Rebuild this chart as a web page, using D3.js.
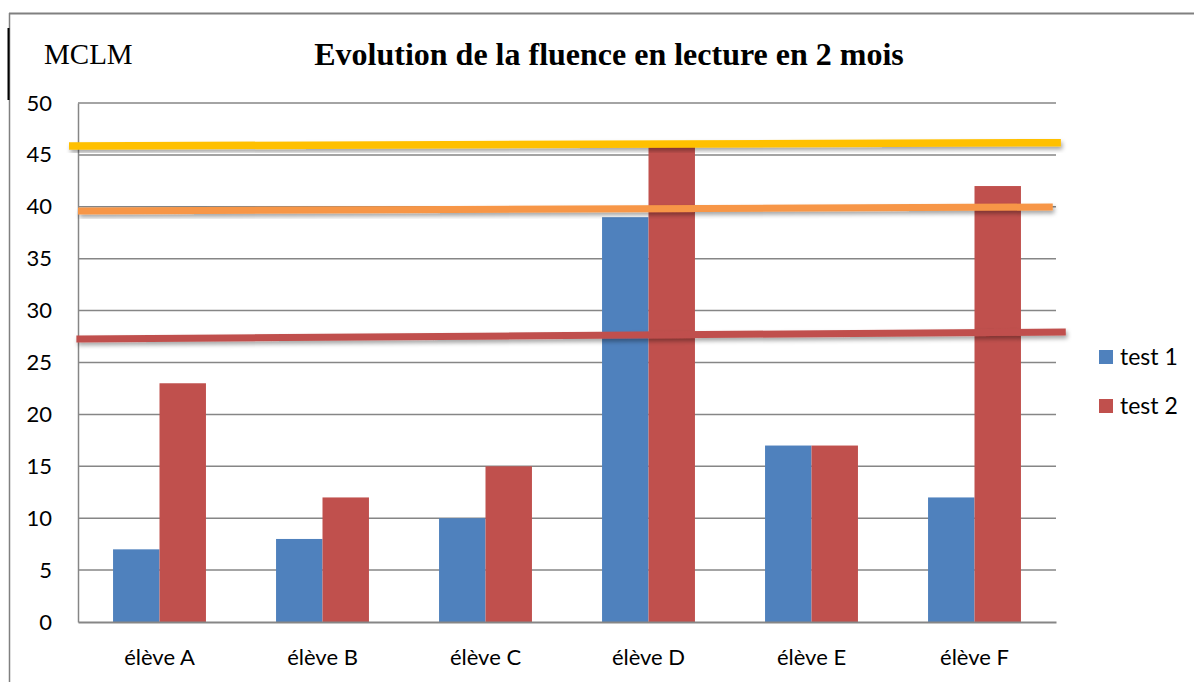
<!DOCTYPE html>
<html>
<head>
<meta charset="utf-8">
<script src="https://cdn.jsdelivr.net/npm/d3@7"></script>
<style>
  html, body { margin: 0; padding: 0; background: #fff; }
  svg { display: block; }
</style>
</head>
<body>
<svg id="chart" width="1194" height="682"></svg>
<script>
// ---- data ----
const categories = ["élève A", "élève B", "élève C", "élève D", "élève E", "élève F"];
const seriesNames = ["test 1", "test 2"];
const test1 = [7, 8, 10, 39, 17, 12];
const test2 = [23, 12, 15, 46, 17, 42];
const yTicks = [0, 5, 10, 15, 20, 25, 30, 35, 40, 45, 50];
// hand-drawn reference lines: [x start, y start, x end, y end] in (category index, value) units
const refLineNames = ["jaune", "orange", "rouge"];
const refLineStart = [[-0.055, 45.86], [0.0, 39.6], [-0.01, 27.26]];
const refLineEnd = [[6.03, 46.18], [5.98, 39.98], [6.06, 27.94]];
const title = "Evolution de la fluence en lecture en 2 mois";
const corner = "MCLM";

// ---- layout ----
const svg = d3.select("#chart");
const plot = { left: 78, right: 1056, top: 103, bottom: 622 };
const colors = ["#4F81BD", "#C0504D"];
const refColors = ["#FFC000", "#F79646", "#C0504D"];
const refWidths = [7.5, 7, 7];
const sans = "Lato, 'Open Sans', sans-serif";

const defs = svg.append("defs");
const f = defs.append("filter").attr("id", "shadow")
  .attr("x", "-5%").attr("y", "-200%").attr("width", "110%").attr("height", "500%");
f.append("feDropShadow").attr("dx", 1.5).attr("dy", 3).attr("stdDeviation", 2)
  .attr("flood-color", "#000").attr("flood-opacity", 0.35);

// outer frame
svg.append("line").attr("x1", 9).attr("x2", 1194).attr("y1", 13.5).attr("y2", 13.5)
  .attr("stroke", "#808080").attr("stroke-width", 2);
svg.append("line").attr("x1", 9.5).attr("x2", 9.5).attr("y1", 13).attr("y2", 682)
  .attr("stroke", "#808080").attr("stroke-width", 1.5);
svg.append("line").attr("x1", 8.5).attr("x2", 8.5).attr("y1", 28).attr("y2", 100)
  .attr("stroke", "#000").attr("stroke-width", 2);

const x = d3.scaleBand().domain(categories).range([plot.left, plot.right])
  .paddingInner(0.43).paddingOuter(0.215);
const xSub = d3.scaleBand().domain(seriesNames).range([0, x.bandwidth()]);
const xLin = d3.scaleLinear().domain([0, categories.length]).range([plot.left, plot.right]);
const y = d3.scaleLinear().domain([0, 50]).range([plot.bottom, plot.top]);

// gridlines
svg.append("g").selectAll("line").data(yTicks.filter(d => d > 0)).join("line")
  .attr("x1", plot.left).attr("x2", plot.right)
  .attr("y1", d => y(d)).attr("y2", d => y(d))
  .attr("stroke", "#868686").attr("stroke-width", 1.5);

// y axis
const yAxis = svg.append("g").attr("transform", `translate(${plot.left},0)`)
  .call(d3.axisLeft(y).tickValues(yTicks).tickSize(0).tickPadding(26));
yAxis.select(".domain").attr("stroke", "#868686").attr("stroke-width", 1.5);
yAxis.selectAll("text").attr("font-family", sans)
  .attr("font-size", 22).attr("fill", "#000");

// bars
const series = [test1, test2];
const gBars = svg.append("g");
series.forEach((vals, si) => {
  gBars.selectAll(null).data(vals).join("rect")
    .attr("x", (d, i) => x(categories[i]) + xSub(seriesNames[si]))
    .attr("width", xSub.bandwidth())
    .attr("y", d => y(d))
    .attr("height", d => y(0) - y(d))
    .attr("fill", colors[si]);
});

// x axis
const xAxis = svg.append("g").attr("transform", `translate(0,${plot.bottom})`)
  .call(d3.axisBottom(x).tickSize(0).tickPadding(27));
xAxis.select(".domain").attr("stroke", "#868686").attr("stroke-width", 2);
xAxis.selectAll("text").attr("font-family", sans)
  .attr("font-size", 22).attr("fill", "#000");

// reference lines
svg.append("g").selectAll("line").data(refLineNames).join("line")
  .attr("x1", (d, i) => xLin(refLineStart[i][0]))
  .attr("y1", (d, i) => y(refLineStart[i][1]))
  .attr("x2", (d, i) => xLin(refLineEnd[i][0]))
  .attr("y2", (d, i) => y(refLineEnd[i][1]))
  .attr("stroke", (d, i) => refColors[i])
  .attr("stroke-width", (d, i) => refWidths[i])
  .attr("filter", "url(#shadow)");

// legend
const leg = svg.append("g");
seriesNames.forEach((s, i) => {
  const cy = 357 + i * 49;
  leg.append("rect").attr("x", 1099).attr("y", cy - 7).attr("width", 14).attr("height", 14)
    .attr("fill", colors[i]);
  leg.append("text").attr("x", 1120).attr("y", cy).attr("dy", "0.35em")
    .attr("font-family", sans).attr("font-size", 23).text(s);
});

// titles
svg.append("text").attr("x", 609).attr("y", 65).attr("text-anchor", "middle")
  .attr("font-family", "'Liberation Serif', 'Times New Roman', serif")
  .attr("font-weight", "bold").attr("font-size", 32).text(title);
svg.append("text").attr("x", 44).attr("y", 64)
  .attr("font-family", "'Liberation Serif', 'Times New Roman', serif")
  .attr("font-size", 29).text(corner);
</script>
</body>
</html>
